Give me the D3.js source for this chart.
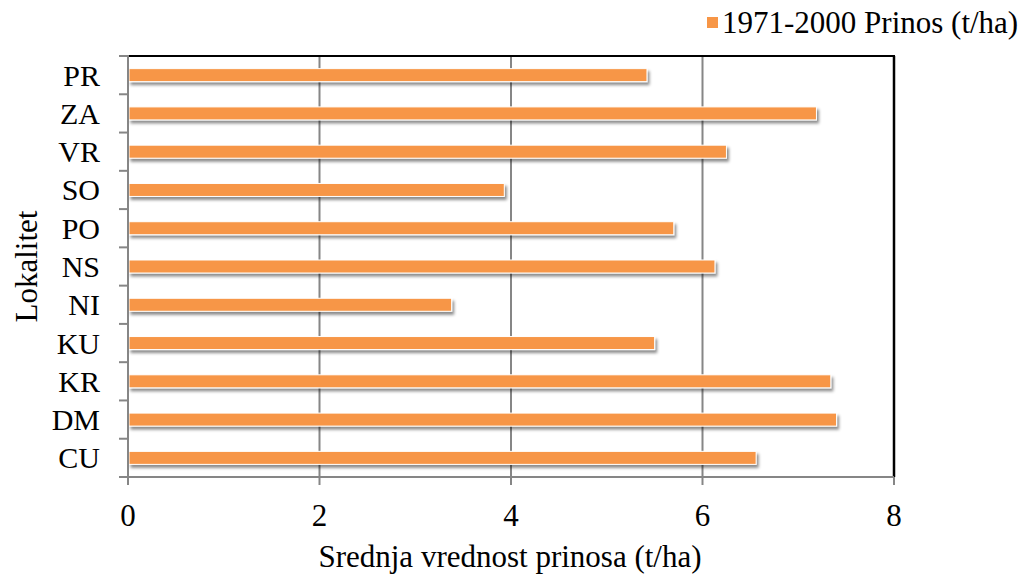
<!DOCTYPE html>
<html>
<head>
<meta charset="utf-8">
<script src="https://cdn.jsdelivr.net/npm/d3@7"></script>
<style>
  body { margin: 0; background: #fff; }
  text { font-family: "Liberation Serif", "Times New Roman", serif; fill: #000; }
</style>
</head>
<body>
<svg id="chart" width="1024" height="576"></svg>
<script>
// data, top to bottom
var categories = ["PR", "ZA", "VR", "SO", "PO", "NS", "NI", "KU", "KR", "DM", "CU"];
var values = [5.42, 7.19, 6.25, 3.93, 5.70, 6.13, 3.38, 5.50, 7.34, 7.40, 6.56];
var xTicks = [0, 2, 4, 6, 8];
var seriesName = "1971-2000 Prinos (t/ha)";

var svg = d3.select("#chart");
var plotLeft = 128, plotRight = 894, plotTop = 56, plotBottom = 477;
var barColor = "#F79646";

var x = d3.scaleLinear().domain([0, 8]).range([plotLeft, plotRight]);
var y = d3.scaleBand().domain(categories).range([plotTop, plotBottom]).paddingInner(0.66).paddingOuter(0.33);

// shadow under bars
var defs = svg.append("defs");
defs.append("filter").attr("id", "shadow")
  .attr("x", "-5%").attr("y", "-50%").attr("width", "110%").attr("height", "250%")
  .append("feDropShadow")
  .attr("dx", 2).attr("dy", 3).attr("stdDeviation", 1.6)
  .attr("flood-color", "#000").attr("flood-opacity", 0.45);

// gridlines
svg.append("g").selectAll("line")
  .data(xTicks.filter(d => d > 0 && d < 8))
  .enter().append("line")
  .attr("x1", d => x(d)).attr("x2", d => x(d))
  .attr("y1", plotTop).attr("y2", plotBottom)
  .style("stroke", "#868686").style("stroke-width", 2);

// bars
svg.append("g").selectAll("rect")
  .data(values)
  .enter().append("rect")
  .attr("x", x(0) + 1)
  .attr("y", (d, i) => y(categories[i]))
  .attr("width", d => x(d) - x(0) - 1)
  .attr("height", y.bandwidth())
  .style("fill", barColor)
  .style("stroke", "#fff")
  .style("stroke-width", 1)
  .attr("filter", "url(#shadow)");

// frame: top and right dark, left and bottom are axis lines
svg.append("line").attr("x1", plotLeft).attr("x2", plotRight + 1).attr("y1", plotTop).attr("y2", plotTop)
  .style("stroke", "#000").style("stroke-width", 2);
svg.append("line").attr("x1", plotRight).attr("x2", plotRight).attr("y1", plotTop).attr("y2", plotBottom)
  .style("stroke", "#000").style("stroke-width", 2.5);

// y axis line and ticks at category edges
svg.append("line").attr("x1", plotLeft).attr("x2", plotLeft).attr("y1", plotTop - 1).attr("y2", plotBottom + 8)
  .style("stroke", "#868686").style("stroke-width", 2);
var step = y.step();
svg.append("g").selectAll("line")
  .data(d3.range(categories.length + 1))
  .enter().append("line")
  .attr("x1", plotLeft - 9).attr("x2", plotLeft)
  .attr("y1", i => plotTop + i * step).attr("y2", i => plotTop + i * step)
  .style("stroke", "#868686").style("stroke-width", 2);

// x axis line and ticks
svg.append("line").attr("x1", plotLeft - 9).attr("x2", plotRight).attr("y1", plotBottom).attr("y2", plotBottom)
  .style("stroke", "#868686").style("stroke-width", 2);
svg.append("g").selectAll("line")
  .data(xTicks)
  .enter().append("line")
  .attr("x1", d => x(d)).attr("x2", d => x(d))
  .attr("y1", plotBottom).attr("y2", plotBottom + 8)
  .style("stroke", "#868686").style("stroke-width", 2);

// x tick labels
svg.append("g").selectAll("text")
  .data(xTicks)
  .enter().append("text")
  .attr("x", d => x(d)).attr("y", 526)
  .attr("text-anchor", "middle")
  .attr("font-size", "31px")
  .text(d => d);

// category labels
svg.append("g").selectAll("text")
  .data(categories)
  .enter().append("text")
  .attr("x", 100)
  .attr("y", d => y(d) + y.bandwidth() / 2)
  .attr("dy", "0.35em")
  .attr("text-anchor", "end")
  .attr("font-size", "30px")
  .text(d => d);

// axis titles
svg.append("text")
  .attr("x", (plotLeft + plotRight) / 2 - 1).attr("y", 567)
  .attr("text-anchor", "middle")
  .attr("font-size", "31px")
  .text("Srednja vrednost prinosa (t/ha)");

svg.append("text")
  .attr("transform", "translate(37," + (plotTop + plotBottom) / 2 + ") rotate(-90)")
  .attr("text-anchor", "middle")
  .attr("font-size", "31px")
  .text("Lokalitet");

// legend
svg.append("rect").attr("x", 707).attr("y", 17).attr("width", 11).attr("height", 11)
  .style("fill", barColor);
svg.append("text").attr("x", 722).attr("y", 33)
  .attr("font-size", "31px")
  .text(seriesName);
</script>
</body>
</html>
